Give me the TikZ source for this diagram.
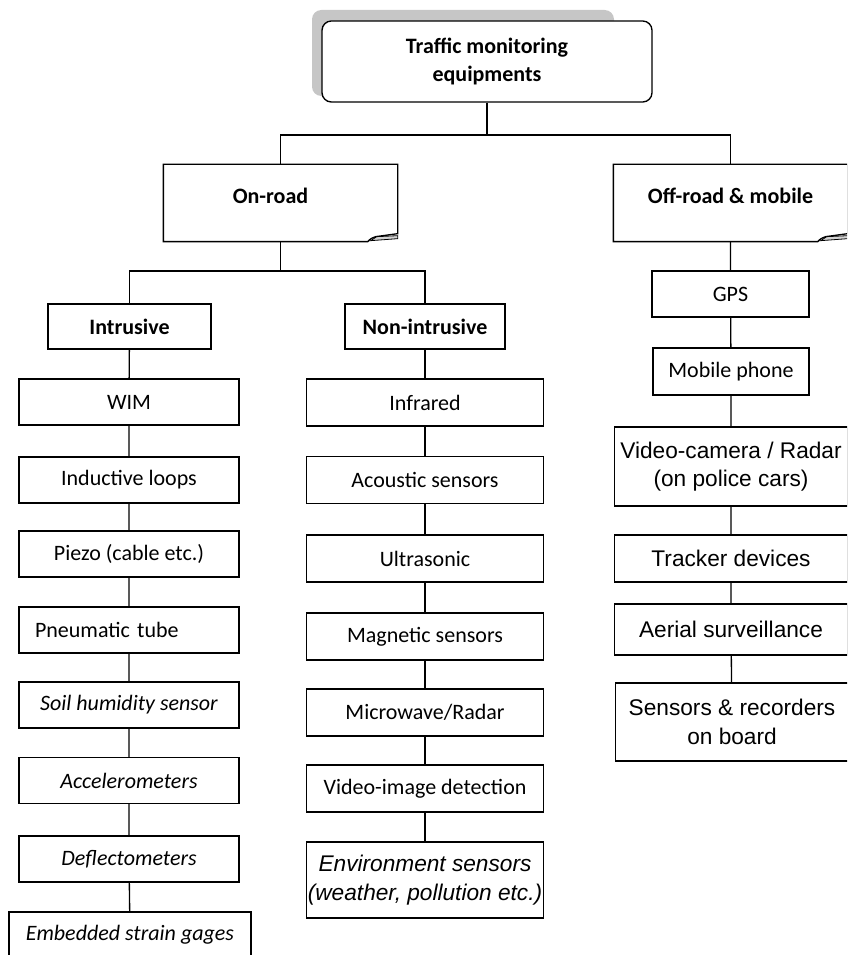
\documentclass[tikz,border=0pt]{standalone}
\usepackage{fontspec}
\setmainfont{Carlito}
\newfontfamily\arial{Liberation Sans}
\usetikzlibrary{calc}

\newcommand{\txt}{\fontsize{16.5}{21}\selectfont}
\newcommand{\atxt}{\fontsize{17}{21.5}\selectfont}

\begin{document}
\begin{tikzpicture}[x=0.75pt,y=-0.75pt,line width=1pt,font=\txt]
\tikzstyle{cell}=[draw,align=center,inner sep=0pt]
\tikzstyle{icol}=[cell,minimum width=165pt,minimum height=34.5pt]
\tikzstyle{ncol}=[cell,minimum width=177.75pt,minimum height=35.25pt]
\tikzstyle{rcol}=[cell,minimum width=174.75pt,minimum height=35.25pt,font=\arial\atxt]
\tikzstyle{notebox}=[minimum width=174.75pt,minimum height=57pt,text depth=10.5pt,font=\bfseries\txt]
\useasboundingbox (0,0) rectangle (847,955);
\clip (0,0) rectangle (847,955);

% top box with its shadow
\fill[gray!45,rounded corners=7pt] (312,10) rectangle (614,96);
\node[cell,fill=white,rounded corners=7pt,minimum width=247.5pt,minimum height=60.75pt,font=\bfseries\txt] (top) at (487,61.5) {Traffic monitoring\\equipments};

% the two branches
\node[notebox] (onroad) at (280.5,203) {On-road\hspace*{15pt}};
\node[notebox] (offroad) at (730.5,203) {Off-road \& mobile};
\draw (onroad.north west) -- (onroad.north east) -- ($(onroad.south east)+(0,-8)$) -- ($(onroad.south east)+(-22,-5)$) .. controls ($(onroad.south east)+(-27,-3)$) .. ($(onroad.south east)+(-30,0)$) -- (onroad.south west) -- cycle;
\filldraw[fill=gray!35,line width=.6pt] ($(onroad.south east)+(-27,-1)$) -- ($(onroad.south east)+(-21,-5)$) -- ($(onroad.south east)+(0,-6)$) -- ($(onroad.south east)+(0,-3)$) -- cycle;
\draw (offroad.north west) -- (offroad.north east) -- ($(offroad.south east)+(0,-8)$) -- ($(offroad.south east)+(-22,-5)$) .. controls ($(offroad.south east)+(-27,-3)$) .. ($(offroad.south east)+(-30,0)$) -- (offroad.south west) -- cycle;
\filldraw[fill=gray!35,line width=.6pt] ($(offroad.south east)+(-27,-1)$) -- ($(offroad.south east)+(-21,-5)$) -- ($(offroad.south east)+(0,-6)$) -- ($(offroad.south east)+(0,-3)$) -- cycle;

\coordinate (bus1) at (487,135);
\draw (top.south) -- (bus1) (onroad.north) |- (bus1) -| (offroad.north);

% on-road: intrusive
\node[cell,minimum width=122.25pt,minimum height=33.75pt,font=\bfseries\txt] (intr) at (129.5,326.5) {Intrusive};
\node[icol] (wim) at (129,402) {WIM};
\node[icol] (loops) at (129,480) {Inductive loops};
\node[icol] (piezo) at (129,554) {Piezo (cable etc.)};
\node[icol,align=left,text width=141pt,inner xsep=12pt] (pneu) at (129,630) {Pneumatic tube};
\node[icol,font=\itshape\txt] (soil) at (129,705) {Soil humidity sensor};
\node[icol,font=\itshape\txt] (accel) at (129,780.5) {Accelerometers};
\node[icol,font=\itshape\txt] (deflect) at (129,859) {Deflectometers};
\node[icol,minimum width=181.5pt,font=\itshape\txt] (strain) at (130,935) {Embedded strain gages};

% on-road: non-intrusive
\node[cell,minimum width=120pt,minimum height=33.75pt,font=\bfseries\txt] (nonintr) at (425,326.5) {Non-intrusive};
\node[ncol] (infra) at (425,402.5) {Infrared};
\node[ncol] (acoustic) at (425,480) {Acoustic sensors};
\node[ncol] (ultra) at (425,558.5) {Ultrasonic};
\node[ncol] (magnet) at (425,636.5) {Magnetic sensors};
\node[ncol] (micro) at (425,712.5) {Microwave/Radar};
\node[ncol] (vidimg) at (425,788.5) {Video-image detection};
\node[ncol,minimum height=57pt,font=\arial\itshape\atxt] (environ) at (425,880) {Environment sensors\\(weather, pollution etc.)};

\coordinate (bus2) at (280.5,271);
\draw (onroad.south) -- (bus2) (intr.north) |- (bus2) -| (nonintr.north);
\draw (intr) -- (wim) -- (loops) -- (piezo) -- (pneu) -- (soil) -- (accel) -- (deflect) -- (strain);
\draw (nonintr) -- (infra) -- (acoustic) -- (ultra) -- (magnet) -- (micro) -- (vidimg) -- (environ);

% off-road & mobile
\node[cell,minimum width=117.75pt,minimum height=34.5pt] (gps) at (730.5,294) {GPS};
\node[cell,minimum width=117pt,minimum height=35.25pt] (mobile) at (731,371.5) {Mobile phone};
\node[rcol,minimum height=59.25pt] (vidcam) at (731,466.5) {Video-camera / Radar\\(on police cars)};
\node[rcol] (tracker) at (731,558.5) {Tracker devices};
\node[rcol,minimum height=38.25pt] (aerial) at (731,629.5) {Aerial surveillance};
\node[rcol,minimum height=58.5pt] (onboard) at (732,722) {Sensors \& recorders\\on board};
\draw (offroad) -- (gps) -- (mobile) -- (vidcam) -- (tracker) -- (aerial) -- (onboard);
\end{tikzpicture}
\end{document}
